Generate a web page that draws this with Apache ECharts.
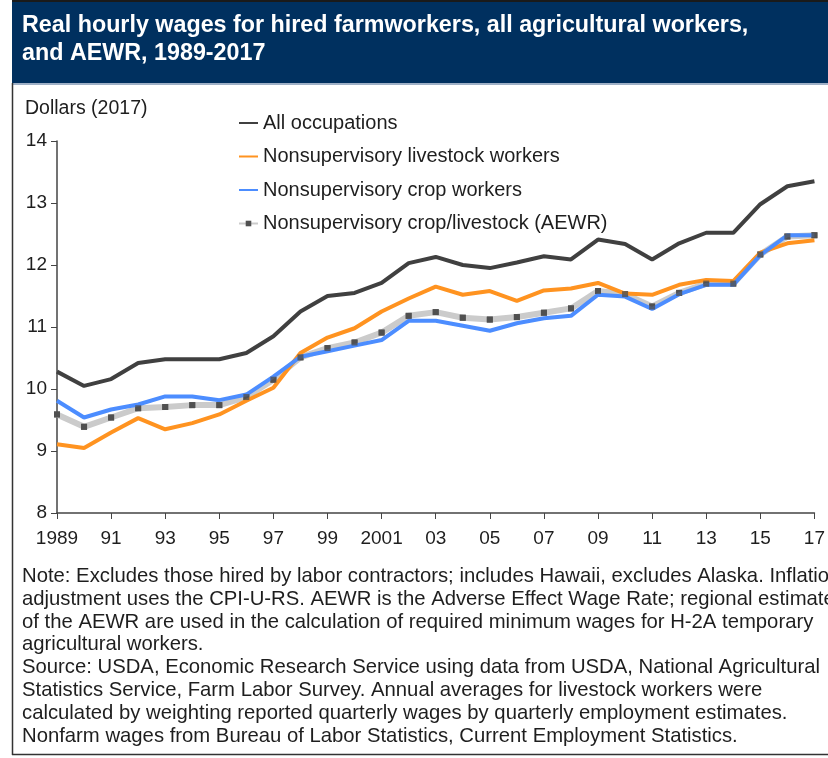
<!DOCTYPE html>
<html>
<head>
<meta charset="utf-8">
<script src="https://cdn.jsdelivr.net/npm/echarts@6/dist/echarts.min.js"></script>
<style>
  html, body { margin: 0; padding: 0; background: #fff; }
  #chart { width: 828px; height: 758px; }
</style>
</head>
<body>
<div id="chart"></div>
<script>
// years on the x axis
const years = ['1989', '1990', '1991', '1992', '1993', '1994', '1995', '1996', '1997', '1998',
  '1999', '2000', '2001', '2002', '2003', '2004', '2005', '2006', '2007', '2008',
  '2009', '2010', '2011', '2012', '2013', '2014', '2015', '2016', '2017']

// real hourly wages, dollars (2017)
const allOccupations = [10.28, 10.05, 10.16, 10.42, 10.48, 10.48, 10.48, 10.58, 10.85, 11.25,
  11.5, 11.55, 11.71, 12.03, 12.13, 12.0, 11.95, 12.04, 12.14, 12.09,
  12.41, 12.34, 12.09, 12.35, 12.52, 12.52, 12.98, 13.27, 13.35]
const livestock = [9.11, 9.05, 9.3, 9.53, 9.35, 9.45, 9.59, 9.81, 10.02, 10.58,
  10.83, 10.98, 11.25, 11.46, 11.65, 11.52, 11.58, 11.42, 11.59, 11.62,
  11.71, 11.54, 11.52, 11.68, 11.76, 11.74, 12.2, 12.35, 12.4]
const crop = [9.81, 9.54, 9.67, 9.75, 9.88, 9.88, 9.82, 9.91, 10.2, 10.52,
  10.61, 10.7, 10.79, 11.1, 11.1, 11.02, 10.94, 11.06, 11.14, 11.18,
  11.52, 11.49, 11.29, 11.53, 11.68, 11.68, 12.16, 12.48, 12.48]
const aewr = [9.59, 9.39, 9.54, 9.69, 9.71, 9.74, 9.74, 9.87, 10.15, 10.51,
  10.66, 10.75, 10.91, 11.18, 11.24, 11.15, 11.12, 11.16, 11.23, 11.3,
  11.58, 11.53, 11.33, 11.55, 11.7, 11.7, 12.17, 12.46, 12.48]

const seriesNames = ['All occupations', 'Nonsupervisory livestock workers',
  'Nonsupervisory crop workers', 'Nonsupervisory crop/livestock (AEWR)']

const titleLines = ['Real hourly wages for hired farmworkers, all agricultural workers,',
  'and AEWR, 1989-2017']

const noteLines = [
  'Note: Excludes those hired by labor contractors; includes Hawaii, excludes Alaska. Inflation',
  'adjustment uses the CPI-U-RS. AEWR is the Adverse Effect Wage Rate; regional estimates',
  'of the AEWR are used in the calculation of required minimum wages for H-2A temporary',
  'agricultural workers.',
  'Source: USDA, Economic Research Service using data from USDA, National Agricultural',
  'Statistics Service, Farm Labor Survey. Annual averages for livestock workers were',
  'calculated by weighting reported quarterly wages by quarterly employment estimates.',
  'Nonfarm wages from Bureau of Labor Statistics, Current Employment Statistics.'
]

const FONT = '"Liberation Sans", Arial, sans-serif'
const TXT = '#1e1e1e'

const chart = echarts.init(document.getElementById('chart'))

// frame, title bar, axis name and notes
const graphics = [
  { type: 'rect', shape: { x: 12, y: 0, width: 816, height: 83 }, style: { fill: '#00305f' } },
  { type: 'rect', shape: { x: 12, y: 0, width: 816, height: 2 }, style: { fill: '#1a1a1a' } },
  { type: 'rect', shape: { x: 12, y: 83, width: 816, height: 2 }, style: { fill: '#9fb0c6' } },
  { type: 'line', shape: { x1: 12.5, y1: 83, x2: 12.5, y2: 755 }, style: { stroke: '#333', lineWidth: 1.5 } },
  { type: 'line', shape: { x1: 12, y1: 754.5, x2: 828, y2: 754.5 }, style: { stroke: '#333', lineWidth: 1.5 } },
  {
    type: 'text', left: 25, top: 99,
    style: { text: 'Dollars (2017)', fill: TXT, font: '19.5px ' + FONT }
  }
]
titleLines.forEach((t, i) => {
  graphics.push({
    type: 'text', left: 22, top: 14 + i * 28,
    style: { text: t, fill: '#fff', font: 'bold 23.3px ' + FONT }
  })
})
noteLines.forEach((t, i) => {
  graphics.push({
    type: 'text', left: 22, top: 565 + i * 22.8,
    style: { text: t, fill: TXT, font: '20.3px ' + FONT, lineHeight: 23 }
  })
})

// legend items: hide the default circle on the plain lines
const legendData = seriesNames.map((n, i) => i < 3 ? { name: n, itemStyle: { opacity: 0 } } : { name: n })

const option = {
  animation: false,
  backgroundColor: '#fff',
  textStyle: { fontFamily: FONT },
  graphic: graphics,
  legend: {
    orient: 'vertical',
    left: 233,
    top: 108,
    itemWidth: 19,
    itemHeight: 7,
    itemGap: 13.5,
    textStyle: { fontSize: 20, color: TXT, lineHeight: 20, fontFamily: FONT },
    data: legendData
  },
  grid: { left: 57, right: 2, top: 141, bottom: 245 },
  xAxis: {
    type: 'category',
    boundaryGap: false,
    data: years,
    axisLine: { lineStyle: { color: '#444', width: 1.5 } },
    axisTick: { interval: 1, length: 6, lineStyle: { color: '#444' } },
    axisLabel: {
      interval: 1,
      color: TXT,
      fontSize: 19,
      margin: 16,
      showMaxLabel: true,
      hideOverlap: false,
      formatter: v => (v === '1989' || v === '2001') ? v : v.slice(2)
    },
    splitLine: { show: false }
  },
  yAxis: {
    type: 'value',
    min: 8,
    max: 14,
    interval: 1,
    axisLine: { show: true, lineStyle: { color: '#444', width: 1.5 } },
    axisTick: { show: true, length: 6, lineStyle: { color: '#444' } },
    axisLabel: { color: TXT, fontSize: 19, margin: 10 },
    splitLine: { show: false }
  },
  series: [
    {
      name: seriesNames[3], type: 'line', data: aewr, z: 2,
      symbol: 'rect', symbolSize: 6, showSymbol: true,
      itemStyle: { color: '#505050' },
      lineStyle: { color: '#cbcbcb', width: 6 }
    },
    {
      name: seriesNames[0], type: 'line', data: allOccupations, z: 3,
      symbol: 'none', lineStyle: { color: '#404040', width: 4 },
      itemStyle: { color: '#404040' }
    },
    {
      name: seriesNames[1], type: 'line', data: livestock, z: 3,
      symbol: 'none', lineStyle: { color: '#ff9320', width: 4 },
      itemStyle: { color: '#ff9320' }
    },
    {
      name: seriesNames[2], type: 'line', data: crop, z: 3,
      symbol: 'none', lineStyle: { color: '#4c8dff', width: 4 },
      itemStyle: { color: '#4c8dff' }
    },
    // AEWR markers drawn again on top of the crop line
    {
      name: seriesNames[3], type: 'scatter', data: aewr, z: 4,
      symbol: 'rect', symbolSize: 6,
      itemStyle: { color: '#505050' }
    }
  ]
}

chart.setOption(option)
</script>
</body>
</html>
